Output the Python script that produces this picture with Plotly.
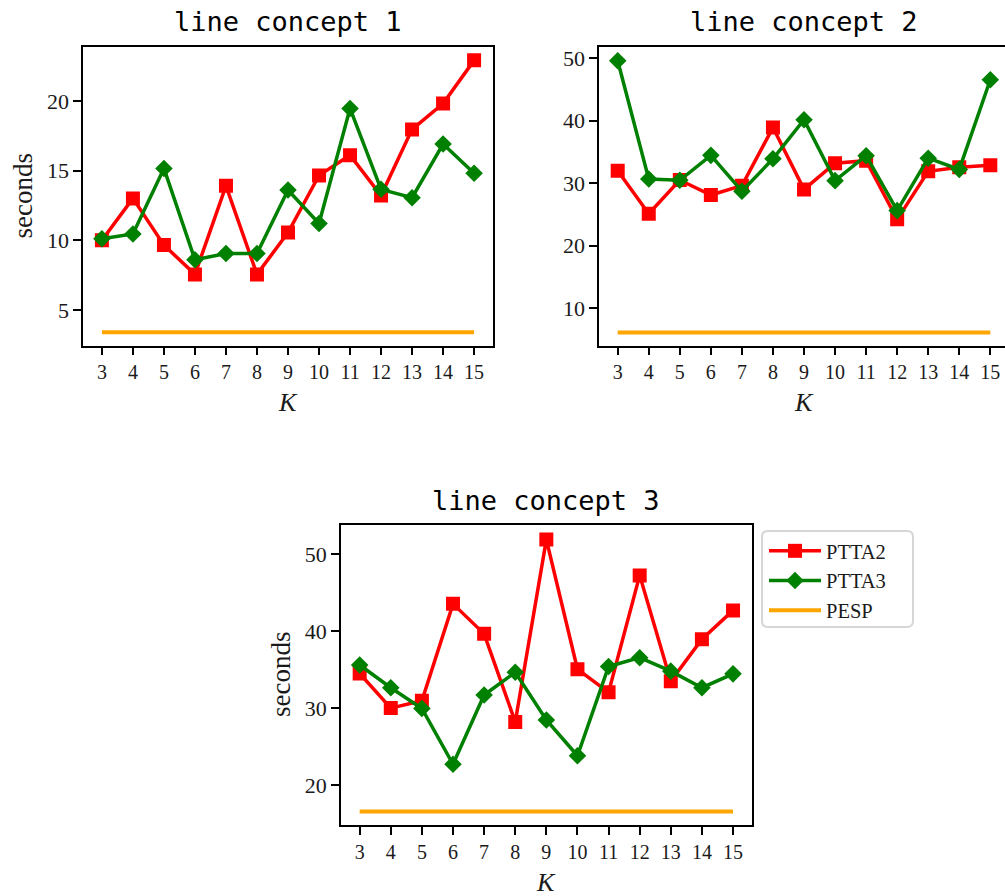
import plotly.graph_objects as go

K = [3, 4, 5, 6, 7, 8, 9, 10, 11, 12, 13, 14, 15]
x_tick_labels = ["3", "4", "5", "6", "7", "8", "9", "10", "11", "12", "13", "14", "15"]

# line concept 1
c1_ptta2 = [10.0, 13.0, 9.65, 7.55, 13.9, 7.55, 10.55, 14.65, 16.1, 13.2, 17.95, 19.8, 22.9]
c1_ptta3 = [10.1, 10.45, 15.15, 8.6, 9.05, 9.05, 13.6, 11.2, 19.45, 13.65, 13.05, 16.9, 14.8]
c1_pesp = [3.4, 3.4, 3.4, 3.4, 3.4, 3.4, 3.4, 3.4, 3.4, 3.4, 3.4, 3.4, 3.4]

# line concept 2
c2_ptta2 = [32.0, 25.1, 30.5, 28.1, 29.6, 38.9, 29.0, 33.2, 33.6, 24.2, 31.9, 32.55, 32.85]
c2_ptta3 = [49.6, 30.65, 30.45, 34.45, 28.7, 33.9, 40.15, 30.4, 34.4, 25.6, 34.0, 32.2, 46.55]
c2_pesp = [6.1, 6.1, 6.1, 6.1, 6.1, 6.1, 6.1, 6.1, 6.1, 6.1, 6.1, 6.1, 6.1]

# line concept 3
c3_ptta2 = [34.5, 30.0, 30.95, 43.55, 39.65, 28.2, 51.9, 35.05, 32.05, 47.25, 33.5, 38.95, 42.7]
c3_ptta3 = [35.6, 32.65, 29.95, 22.7, 31.7, 34.65, 28.45, 23.8, 35.4, 36.55, 34.8, 32.65, 34.45]
c3_pesp = [16.55, 16.55, 16.55, 16.55, 16.55, 16.55, 16.55, 16.55, 16.55, 16.55, 16.55, 16.55, 16.55]

y_ticks_1 = [5, 10, 15, 20]
y_ticks_2 = [10, 20, 30, 40, 50]
y_ticks_3 = [20, 30, 40, 50]

series_names = ["PTTA2", "PTTA3", "PESP"]
titles = ["line concept 1", "line concept 2", "line concept 3"]

W, H = 1005, 896
RED, GREEN, ORANGE = "#ff0000", "#008000", "#ffa500"
SERIF = "Liberation Serif"
MONO = "DejaVu Sans Mono"


def px(v):
    return v / W


def py(v):
    return 1 - v / H


fig = go.Figure()

panels = [
    dict(ptta2=c1_ptta2, ptta3=c1_ptta3, pesp=c1_pesp, xa="x", ya="y"),
    dict(ptta2=c2_ptta2, ptta3=c2_ptta3, pesp=c2_pesp, xa="x2", ya="y2"),
    dict(ptta2=c3_ptta2, ptta3=c3_ptta3, pesp=c3_pesp, xa="x3", ya="y3"),
]

for i, p in enumerate(panels):
    show = i == 2
    fig.add_trace(go.Scatter(
        x=K, y=p["ptta2"], name=series_names[0], mode="lines+markers",
        line=dict(color=RED, width=3.5),
        marker=dict(symbol="square", size=14, color=RED),
        xaxis=p["xa"], yaxis=p["ya"], showlegend=show))
    fig.add_trace(go.Scatter(
        x=K, y=p["ptta3"], name=series_names[1], mode="lines+markers",
        line=dict(color=GREEN, width=3.5),
        marker=dict(symbol="diamond", size=13.5, color=GREEN),
        xaxis=p["xa"], yaxis=p["ya"], showlegend=show))
    fig.add_trace(go.Scatter(
        x=K, y=p["pesp"], name=series_names[2], mode="lines",
        line=dict(color=ORANGE, width=4),
        xaxis=p["xa"], yaxis=p["ya"], showlegend=show))

common_x = dict(
    tickmode="array", tickvals=K, ticktext=x_tick_labels,
    ticks="outside", ticklen=8, tickwidth=1.6, tickcolor="black",
    showline=True, linecolor="black", linewidth=1.9, mirror=True,
    showgrid=False, zeroline=False,
    tickfont=dict(family=SERIF, size=20, color="#1a1a1a"),
)
common_y = dict(
    ticks="outside", ticklen=8, tickwidth=1.6, tickcolor="black",
    showline=True, linecolor="black", linewidth=1.9, mirror=True,
    showgrid=False, zeroline=False,
    tickfont=dict(family=SERIF, size=22, color="#1a1a1a"),
)

# screen-pixel boxes of the three plot areas (left, right, top, bottom)
box1 = (83.3, 492.7, 46.7, 345.5)
box2 = (599.3, 1005.0, 46.7, 345.5)
box3 = (341.0, 751.7, 525.0, 825.0)

fig.update_layout(
    xaxis=dict(common_x, domain=[px(box1[0]), px(box1[1])], range=[2.4, 15.6], anchor="y"),
    yaxis=dict(common_y, domain=[py(box1[3]), py(box1[2])], range=[2.45, 23.88],
               tickvals=y_ticks_1, anchor="x"),
    xaxis2=dict(common_x, domain=[px(box2[0]), px(box2[1])], range=[2.407, 15.473], anchor="y2"),
    yaxis2=dict(common_y, domain=[py(box2[3]), py(box2[2])], range=[4.0, 51.85],
                tickvals=y_ticks_2, anchor="x2", mirror=False),
    xaxis3=dict(common_x, domain=[px(box3[0]), px(box3[1])], range=[2.4, 15.6], anchor="y3"),
    yaxis3=dict(common_y, domain=[py(box3[3]), py(box3[2])], range=[14.8, 53.8],
                tickvals=y_ticks_3, anchor="x3"),
)

ann = []
for box, t in zip([box1, box2, box3], titles):
    cx = (box[0] + box[1]) / 2
    if box is box2:
        cx = (box1[0] + box1[1]) / 2 + (box2[0] - box1[0])
    ann.append(dict(text=t, x=px(cx), y=py(box[2] - 25), xref="paper", yref="paper",
                    xanchor="center", yanchor="middle", showarrow=False,
                    font=dict(family=MONO, size=27, color="black")))
    ann.append(dict(text="<i>K</i>", x=px(cx), y=py(box[3] + 57), xref="paper", yref="paper",
                    xanchor="center", yanchor="middle", showarrow=False,
                    font=dict(family=SERIF, size=26, color="#1a1a1a")))
for box in [box1, box3]:
    ann.append(dict(text="seconds", x=px(box[0] - 60), y=py((box[2] + box[3]) / 2),
                    xref="paper", yref="paper", textangle=-90,
                    xanchor="center", yanchor="middle", showarrow=False,
                    font=dict(family=SERIF, size=27, color="#1a1a1a")))

# legend frame (rounded, light grey) drawn as a shape behind the legend
L, R, T, B, rr = px(762), px(913), py(531), py(627), 6
rx, ry = rr / W, rr / H
frame = (f"M {L+rx},{T} L {R-rx},{T} Q {R},{T} {R},{T-ry} L {R},{B+ry} Q {R},{B} {R-rx},{B} "
         f"L {L+rx},{B} Q {L},{B} {L},{B+ry} L {L},{T-ry} Q {L},{T} {L+rx},{T} Z")

fig.update_layout(
    width=W, height=H,
    margin=dict(l=0, r=0, t=0, b=0),
    paper_bgcolor="white", plot_bgcolor="white",
    annotations=ann,
    shapes=[dict(type="path", path=frame, xref="paper", yref="paper",
                 line=dict(color="#d6d6d6", width=2), fillcolor="white", layer="below")],
    legend=dict(x=px(764), y=py(531), xanchor="left", yanchor="top",
                bgcolor="rgba(0,0,0,0)", borderwidth=0,
                font=dict(family=SERIF, size=20.5, color="#1a1a1a"),
                tracegroupgap=0, itemwidth=52),
)

fig.write_html("out.html", config={"displayModeBar": False},
               post_script="document.body.style.margin='0';")
